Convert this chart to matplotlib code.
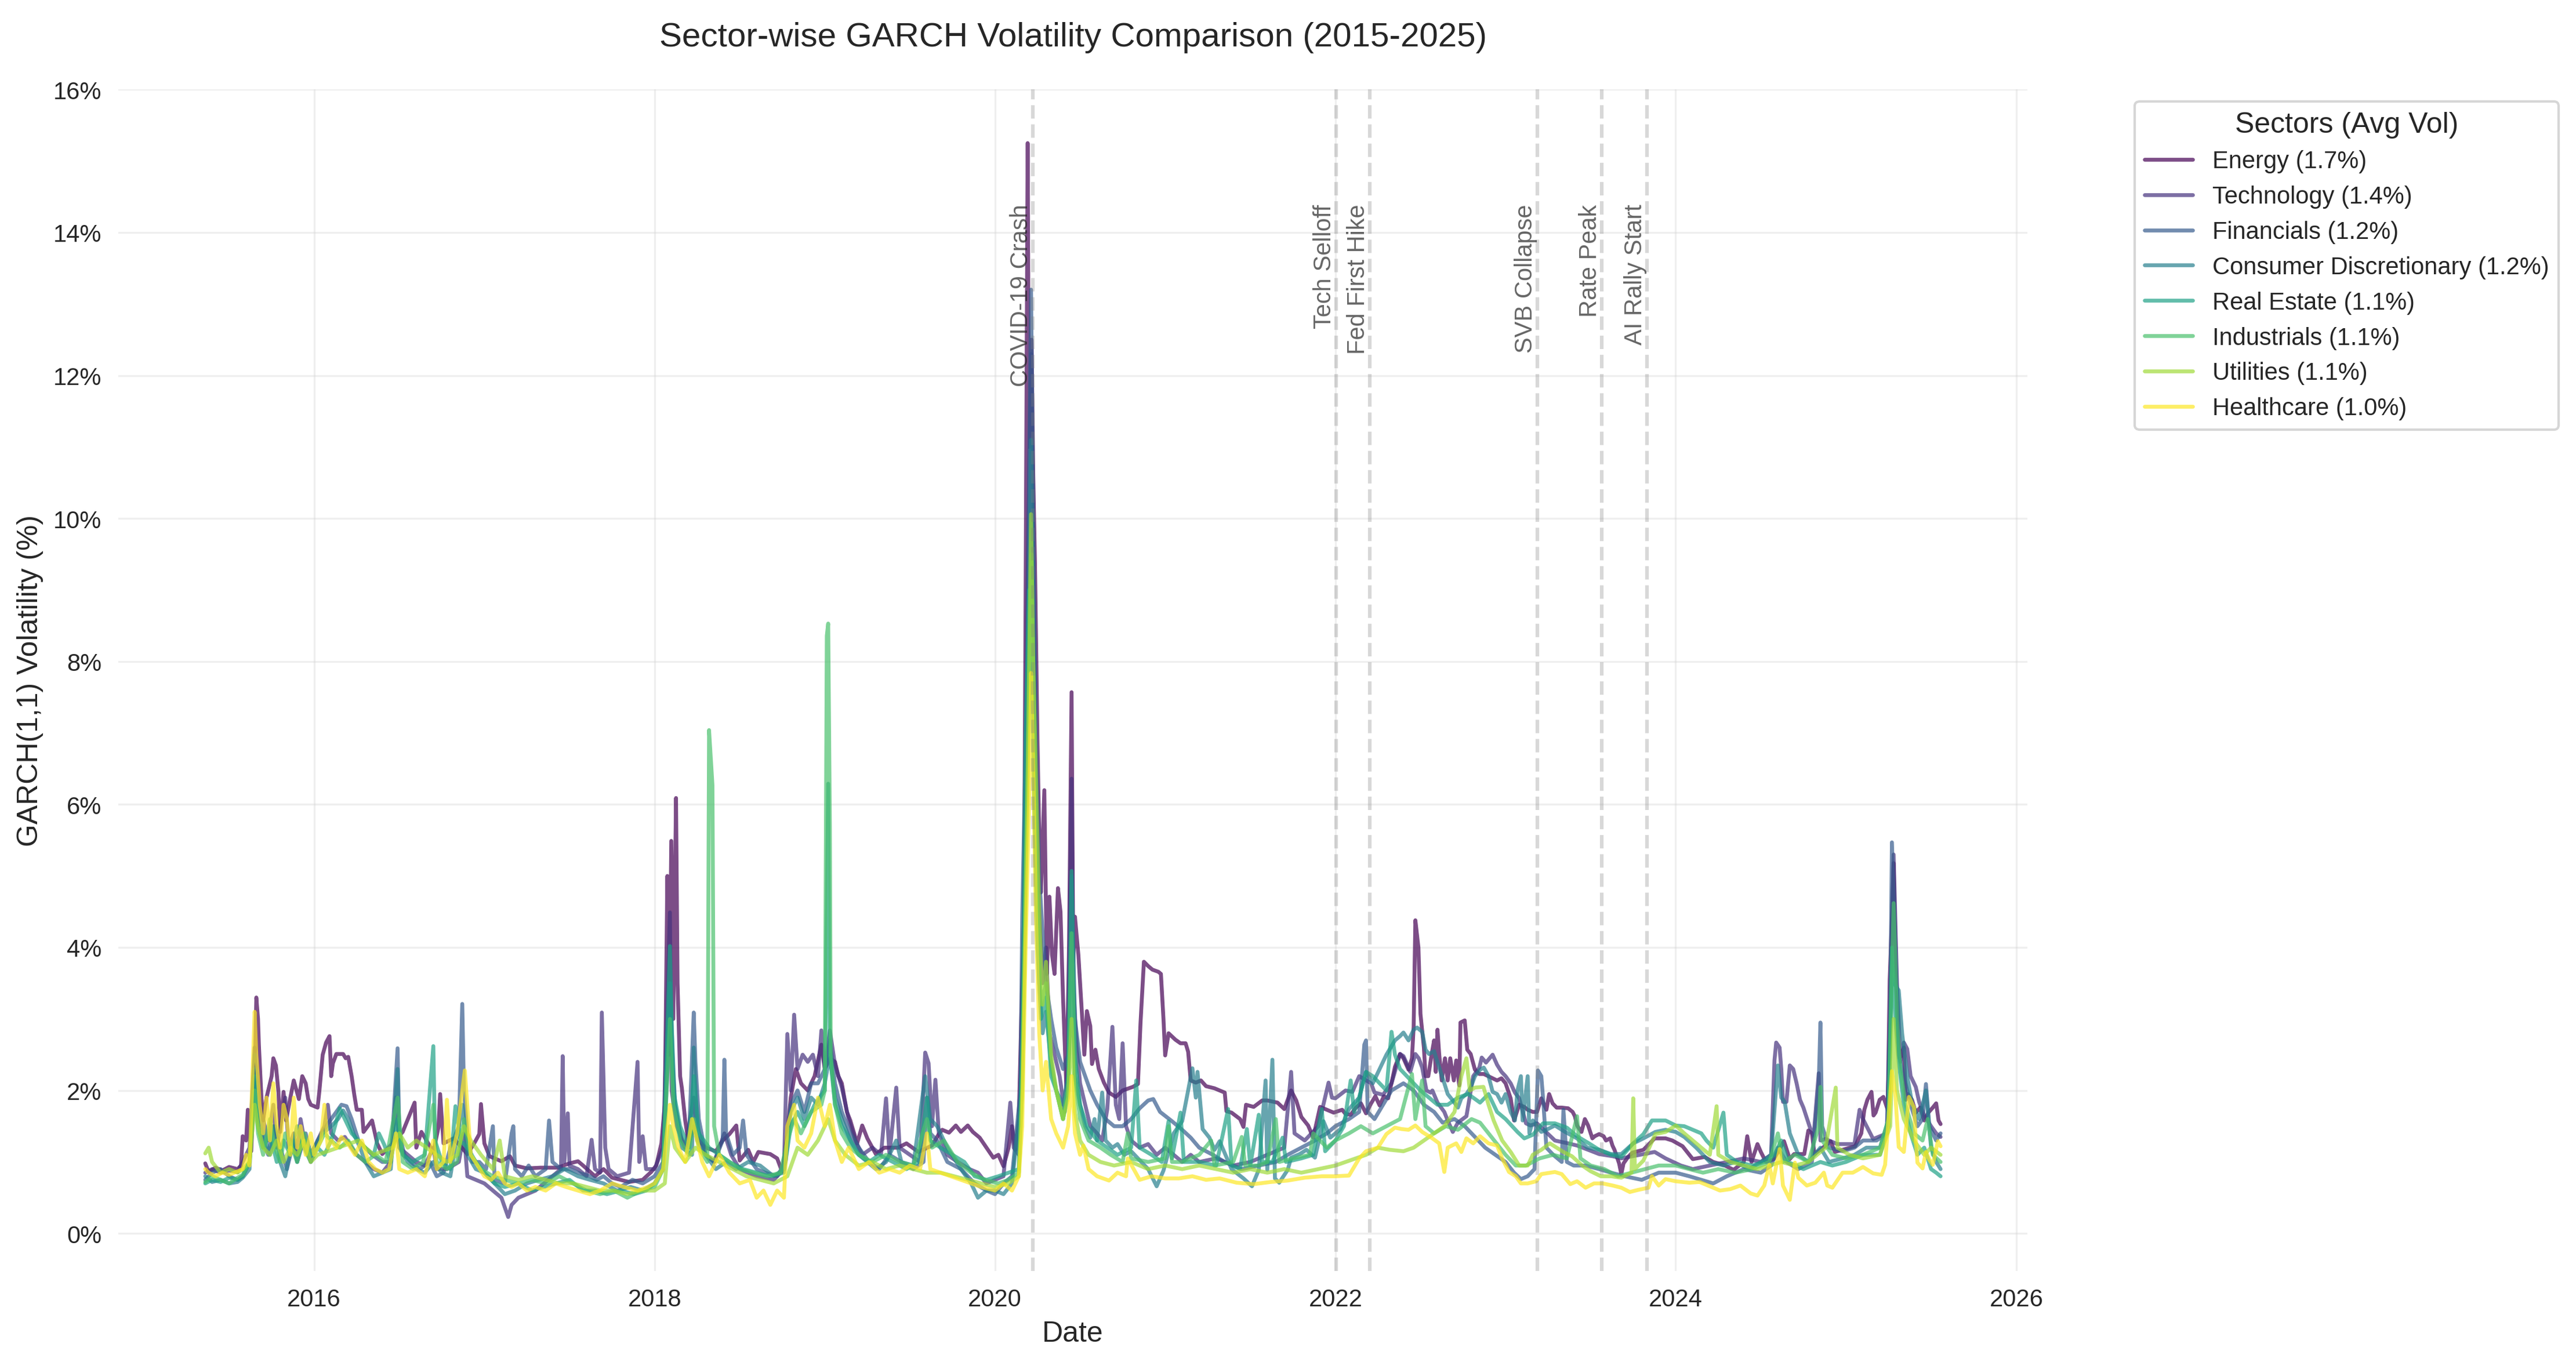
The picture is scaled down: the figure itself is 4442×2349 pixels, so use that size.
import numpy as np
import pandas as pd
import matplotlib
matplotlib.use("Agg")
import matplotlib.pyplot as plt
import matplotlib.dates as mdates
from matplotlib.ticker import MultipleLocator, FuncFormatter
import seaborn as sns

# values (x in decimal years, y in % volatility)
sectors = ["Energy", "Technology", "Financials", "Consumer Discretionary",
           "Real Estate", "Industrials", "Utilities", "Healthcare"]
avg_vol = [1.7, 1.4, 1.2, 1.2, 1.1, 1.1, 1.1, 1.0]

energy_t = [2015.36, 2015.38, 2015.42, 2015.46, 2015.50, 2015.55, 2015.57, 2015.58, 2015.60, 2015.61,
            2015.63, 2015.65, 2015.66, 2015.67, 2015.675, 2015.69, 2015.70, 2015.72, 2015.75, 2015.76,
            2015.775, 2015.79, 2015.80, 2015.82, 2015.835, 2015.86, 2015.88, 2015.91, 2015.93, 2015.95,
            2015.965, 2015.98, 2016.02, 2016.03, 2016.05, 2016.07, 2016.09, 2016.10, 2016.11, 2016.13,
            2016.17, 2016.185, 2016.20, 2016.22, 2016.235, 2016.25, 2016.28, 2016.29, 2016.34, 2016.37,
            2016.40, 2016.46, 2016.52, 2016.59, 2016.60, 2016.63, 2016.67, 2016.70, 2016.73, 2016.74,
            2016.76, 2016.82, 2016.90, 2016.94, 2016.97, 2016.98, 2017.00, 2017.03, 2017.10, 2017.15,
            2017.18, 2017.25, 2017.33, 2017.43, 2017.50, 2017.55, 2017.58, 2017.65, 2017.70, 2017.75,
            2017.85, 2017.93, 2017.98, 2018.01, 2018.04, 2018.06, 2018.075, 2018.085, 2018.098, 2018.11,
            2018.126, 2018.135, 2018.15, 2018.16, 2018.18, 2018.20, 2018.23, 2018.26, 2018.30, 2018.36,
            2018.40, 2018.44, 2018.48, 2018.50, 2018.55, 2018.58, 2018.61, 2018.68, 2018.72, 2018.75,
            2018.78, 2018.80, 2018.83, 2018.86, 2018.90, 2018.94, 2018.98, 2019.00, 2019.03, 2019.06,
            2019.08, 2019.10, 2019.13, 2019.15, 2019.17, 2019.19, 2019.22, 2019.25, 2019.30, 2019.35,
            2019.43, 2019.48, 2019.55, 2019.63, 2019.67, 2019.69, 2019.73, 2019.77, 2019.80, 2019.84,
            2019.87, 2019.91, 2019.95, 2019.99, 2020.02, 2020.05, 2020.08, 2020.10, 2020.12, 2020.14,
            2020.155, 2020.17, 2020.18, 2020.192, 2020.20, 2020.215, 2020.225, 2020.235, 2020.25, 2020.26,
            2020.27, 2020.29, 2020.305, 2020.32, 2020.335, 2020.35, 2020.37, 2020.385, 2020.40, 2020.42,
            2020.435, 2020.45, 2020.46, 2020.47, 2020.49, 2020.51, 2020.525, 2020.54, 2020.56, 2020.57,
            2020.59, 2020.61, 2020.64, 2020.67, 2020.71, 2020.75, 2020.81, 2020.84, 2020.855, 2020.875,
            2020.90, 2020.925, 2020.96, 2020.975, 2020.99, 2021.00, 2021.02, 2021.06, 2021.09, 2021.12,
            2021.135, 2021.15, 2021.18, 2021.21, 2021.24, 2021.29, 2021.32, 2021.35, 2021.36, 2021.39,
            2021.44, 2021.46, 2021.475, 2021.52, 2021.57, 2021.60, 2021.66, 2021.70, 2021.74, 2021.77,
            2021.80, 2021.84, 2021.87, 2021.91, 2021.94, 2021.99, 2022.04, 2022.06, 2022.09, 2022.12,
            2022.15, 2022.18, 2022.21, 2022.235, 2022.26, 2022.285, 2022.31, 2022.325, 2022.35, 2022.38,
            2022.40, 2022.43, 2022.45, 2022.46, 2022.47, 2022.488, 2022.50, 2022.52, 2022.53, 2022.546,
            2022.566, 2022.58, 2022.59, 2022.60, 2022.61, 2022.625, 2022.644, 2022.66, 2022.675, 2022.696,
            2022.71, 2022.728, 2022.735, 2022.76, 2022.775, 2022.795, 2022.82, 2022.846, 2022.872, 2022.898,
            2022.924, 2022.95, 2022.976, 2023.00, 2023.03, 2023.05, 2023.08, 2023.11, 2023.13, 2023.16,
            2023.185, 2023.21, 2023.24, 2023.256, 2023.276, 2023.30, 2023.33, 2023.368, 2023.394, 2023.407,
            2023.42, 2023.446, 2023.466, 2023.485, 2023.51, 2023.524, 2023.55, 2023.576, 2023.59, 2023.615,
            2023.628, 2023.64, 2023.667, 2023.68, 2023.693, 2023.72, 2023.745, 2023.81, 2023.876, 2023.94,
            2023.98, 2024.04, 2024.10, 2024.17, 2024.22, 2024.28, 2024.34, 2024.40, 2024.42, 2024.445,
            2024.48, 2024.50, 2024.53, 2024.576, 2024.636, 2024.67, 2024.695, 2024.755, 2024.779, 2024.80,
            2024.815, 2024.875, 2024.91, 2024.935, 2024.995, 2025.054, 2025.09, 2025.108, 2025.126, 2025.15,
            2025.162, 2025.174, 2025.198, 2025.22, 2025.245, 2025.257, 2025.27, 2025.28, 2025.292, 2025.304,
            2025.316, 2025.34, 2025.352, 2025.364, 2025.388, 2025.41, 2025.436, 2025.46, 2025.484, 2025.51,
            2025.53, 2025.544, 2025.556]
energy_v = [0.98, 0.86, 0.92, 0.88, 0.93, 0.90, 0.95, 1.36, 1.30, 1.73,
            1.15, 2.20, 3.30, 3.00, 2.64, 1.90, 1.58, 1.90, 2.20, 2.45,
            2.35, 1.98, 1.42, 1.98, 1.58, 1.90, 2.14, 1.88, 2.20, 2.10,
            1.88, 1.80, 1.76, 1.98, 2.50, 2.67, 2.76, 2.20, 2.38, 2.51,
            2.51, 2.45, 2.47, 2.20, 1.95, 1.73, 1.73, 1.42, 1.58, 1.26,
            1.11, 1.26, 1.42, 1.83, 1.20, 1.42, 1.26, 1.14, 1.48, 1.95,
            1.26, 1.33, 1.11, 1.26, 1.39, 1.81, 1.26, 1.08, 1.01, 1.08,
            0.95, 0.91, 0.92, 0.92, 0.98, 1.01, 0.95, 0.80, 0.90, 0.78,
            0.72, 0.75, 0.86, 0.95, 1.26, 1.80, 5.00, 2.50, 5.49, 3.00,
            6.09, 3.50, 2.20, 2.04, 1.58, 1.26, 1.50, 1.30, 1.20, 1.15,
            1.30, 1.39, 1.51, 1.02, 1.17, 1.00, 1.14, 1.11, 1.05, 0.86,
            1.40, 1.90, 2.30, 2.10, 2.00, 2.20, 2.64, 2.30, 2.45, 2.40,
            2.20, 2.10, 1.70, 1.58, 1.42, 1.26, 1.51, 1.33, 1.11, 1.20,
            1.20, 1.26, 1.14, 1.23, 1.39, 1.45, 1.41, 1.51, 1.42, 1.51,
            1.42, 1.34, 1.20, 1.06, 1.10, 0.94, 1.20, 1.50, 1.17, 1.60,
            3.06, 4.40, 8.90, 15.25, 11.00, 12.50, 10.60, 9.36, 6.87, 5.57,
            4.77, 6.20, 3.63, 4.71, 3.90, 3.63, 4.83, 4.50, 3.29, 2.00,
            4.00, 7.57, 3.80, 4.43, 3.90, 3.11, 2.50, 3.11, 2.90, 2.37,
            2.57, 2.30, 2.11, 1.97, 1.91, 2.00, 2.05, 2.09, 2.94, 3.80,
            3.74, 3.69, 3.66, 3.63, 3.00, 2.49, 2.80, 2.71, 2.66, 2.66,
            2.54, 2.14, 2.11, 2.14, 2.06, 2.03, 2.00, 1.97, 1.71, 1.69,
            1.60, 1.49, 1.80, 1.77, 1.86, 1.86, 1.83, 1.74, 2.00, 1.86,
            1.63, 1.51, 1.34, 1.77, 1.74, 1.69, 1.73, 1.67, 1.66, 1.76,
            1.82, 1.68, 1.82, 1.92, 1.79, 1.92, 1.89, 2.05, 2.33, 2.51,
            2.45, 2.29, 2.45, 2.89, 4.38, 4.00, 3.07, 2.60, 2.20, 2.20,
            2.51, 2.70, 2.26, 2.85, 2.51, 2.14, 2.45, 2.14, 2.45, 2.14,
            2.42, 2.07, 2.95, 2.98, 2.57, 2.51, 2.29, 2.23, 2.23, 2.20,
            2.17, 2.14, 2.17, 2.10, 1.89, 1.58, 1.80, 1.77, 1.73, 1.70,
            1.70, 1.89, 1.73, 1.95, 1.82, 1.76, 1.76, 1.75, 1.70, 1.64,
            1.51, 1.42, 1.60, 1.51, 1.33, 1.36, 1.39, 1.36, 1.30, 1.33,
            1.23, 1.17, 0.98, 0.83, 0.98, 1.07, 1.13, 1.17, 1.33, 1.33,
            1.30, 1.22, 1.04, 1.07, 1.00, 0.96, 0.89, 1.00, 1.36, 1.00,
            1.25, 1.14, 1.00, 1.04, 1.29, 1.04, 1.11, 1.11, 1.44, 1.40,
            1.11, 1.22, 1.29, 1.14, 1.18, 1.22, 1.40, 1.73, 1.87, 1.98,
            1.65, 1.69, 1.87, 1.91, 1.73, 3.55, 4.40, 5.18, 3.69, 2.78,
            2.45, 2.60, 1.87, 1.95, 1.87, 1.69, 1.76, 1.58, 1.69, 1.76,
            1.82, 1.58, 1.53]

tech_t = [2015.36, 2015.40, 2015.45, 2015.50, 2015.55, 2015.58, 2015.62, 2015.65, 2015.67, 2015.70,
          2015.73, 2015.76, 2015.78, 2015.80, 2015.83, 2015.85, 2015.88, 2015.90, 2015.92, 2015.95,
          2015.98, 2016.02, 2016.06, 2016.08, 2016.10, 2016.14, 2016.18, 2016.22, 2016.25, 2016.30,
          2016.35, 2016.40, 2016.45, 2016.48, 2016.50, 2016.55, 2016.60, 2016.65, 2016.70, 2016.72,
          2016.78, 2016.85, 2016.88, 2016.90, 2016.95, 2017.00, 2017.05, 2017.10, 2017.14, 2017.16,
          2017.20, 2017.25, 2017.30, 2017.35, 2017.40, 2017.45, 2017.46, 2017.47, 2017.49, 2017.50,
          2017.55, 2017.60, 2017.63, 2017.65, 2017.68, 2017.69, 2017.71, 2017.73, 2017.78, 2017.85,
          2017.90, 2017.91, 2017.93, 2017.95, 2018.00, 2018.05, 2018.09, 2018.10, 2018.13, 2018.18,
          2018.23, 2018.25, 2018.30, 2018.35, 2018.41, 2018.45, 2018.50, 2018.60, 2018.70, 2018.76,
          2018.78, 2018.80, 2018.82, 2018.84, 2018.87, 2018.90, 2018.93, 2018.96, 2018.98, 2019.00,
          2019.03, 2019.06, 2019.10, 2019.14, 2019.18, 2019.22, 2019.28, 2019.33, 2019.36, 2019.38,
          2019.42, 2019.44, 2019.50, 2019.56, 2019.59, 2019.61, 2019.63, 2019.65, 2019.67, 2019.72,
          2019.78, 2019.85, 2019.90, 2019.95, 2020.00, 2020.05, 2020.09, 2020.11, 2020.14, 2020.155,
          2020.17, 2020.19, 2020.212, 2020.225, 2020.24, 2020.26, 2020.28, 2020.30, 2020.32, 2020.35,
          2020.38, 2020.41, 2020.43, 2020.45, 2020.46, 2020.48, 2020.50, 2020.53, 2020.56, 2020.60,
          2020.63, 2020.66, 2020.69, 2020.71, 2020.73, 2020.75, 2020.77, 2020.80, 2020.85, 2020.90,
          2020.95, 2021.00, 2021.05, 2021.10, 2021.15, 2021.20, 2021.30, 2021.40, 2021.50, 2021.60,
          2021.70, 2021.74, 2021.76, 2021.82, 2021.90, 2021.96, 2021.98, 2022.00, 2022.06, 2022.10,
          2022.14, 2022.21, 2022.23, 2022.28, 2022.33, 2022.38, 2022.40, 2022.43, 2022.44, 2022.47,
          2022.49, 2022.51, 2022.535, 2022.56, 2022.57, 2022.60, 2022.64, 2022.66, 2022.69, 2022.72,
          2022.77, 2022.81, 2022.846, 2022.86, 2022.885, 2022.924, 2022.95, 2022.976, 2023.00, 2023.03,
          2023.055, 2023.08, 2023.12, 2023.146, 2023.185, 2023.237, 2023.29, 2023.368, 2023.42, 2023.485,
          2023.55, 2023.63, 2023.68, 2023.745, 2023.81, 2023.876, 2023.94, 2024.03, 2024.10, 2024.20,
          2024.30, 2024.40, 2024.50, 2024.56, 2024.58, 2024.59, 2024.61, 2024.62, 2024.63, 2024.65,
          2024.67, 2024.69, 2024.71, 2024.73, 2024.75, 2024.79, 2024.81, 2024.84, 2024.85, 2024.88,
          2024.95, 2025.05, 2025.08, 2025.10, 2025.16, 2025.24, 2025.26, 2025.28, 2025.30, 2025.32,
          2025.34, 2025.36, 2025.38, 2025.41, 2025.43, 2025.46, 2025.50, 2025.53, 2025.556]
tech_v = [0.85, 0.90, 0.85, 0.88, 0.86, 1.00, 1.20, 2.60, 2.00, 1.60,
          1.30, 1.80, 1.20, 1.50, 1.90, 1.20, 1.40, 1.10, 1.60, 1.20,
          1.00, 1.30, 1.50, 1.80, 1.40, 1.30, 1.35, 1.20, 1.10, 1.00,
          0.90, 0.85, 1.00, 1.90, 1.20, 1.10, 1.00, 0.95, 1.20, 0.90,
          0.90, 1.00, 1.40, 0.80, 0.75, 0.70, 0.60, 0.50, 0.23, 0.40,
          0.50, 0.55, 0.60, 0.70, 0.80, 0.90, 2.48, 1.00, 1.68, 0.95,
          0.90, 0.80, 1.31, 0.90, 0.85, 3.09, 1.20, 0.90, 0.80, 0.85,
          2.40, 1.00, 1.36, 0.90, 0.90, 1.20, 4.49, 2.00, 1.50, 1.20,
          1.90, 1.30, 1.10, 1.00, 1.40, 1.10, 0.90, 0.80, 0.75, 0.90,
          2.79, 2.00, 3.06, 2.30, 2.50, 2.40, 2.50, 2.20, 2.84, 2.30,
          2.84, 2.36, 2.04, 1.60, 1.30, 1.10, 1.20, 1.10, 1.89, 1.10,
          2.04, 1.20, 1.10, 1.00, 2.53, 2.38, 1.50, 2.15, 1.40, 1.10,
          1.00, 0.90, 0.85, 0.70, 0.75, 0.80, 1.83, 1.20, 1.10, 2.50,
          4.40, 8.90, 12.30, 9.00, 6.50, 4.50, 3.50, 4.00, 2.80, 2.50,
          2.20, 1.70, 2.50, 6.36, 3.50, 2.60, 2.10, 1.80, 1.50, 1.40,
          1.30, 1.74, 2.89, 1.80, 1.60, 2.66, 1.50, 1.30, 1.20, 1.25,
          1.10, 1.20, 1.10, 1.00, 1.10, 1.00, 1.05, 0.95, 1.00, 1.10,
          1.20, 2.26, 1.40, 1.30, 1.50, 2.11, 1.90, 1.89, 2.00, 1.98,
          2.20, 2.10, 1.97, 1.94, 2.10, 2.51, 2.48, 2.32, 2.26, 2.51,
          2.45, 2.32, 2.00, 1.97, 2.00, 1.83, 1.70, 1.58, 1.42, 1.55,
          1.64, 2.20, 2.32, 2.46, 2.39, 2.50, 2.36, 2.26, 2.20, 2.10,
          1.97, 1.89, 1.54, 1.51, 1.54, 1.42, 1.30, 1.26, 1.23, 1.17,
          1.11, 1.08, 1.05, 1.08, 1.11, 1.14, 1.05, 0.95, 0.90, 0.95,
          1.00, 1.05, 1.00, 1.10, 2.42, 2.67, 2.60, 2.30, 1.84, 1.84,
          2.35, 2.30, 2.10, 1.87, 1.76, 1.47, 1.36, 2.24, 1.30, 1.32,
          1.25, 1.25, 1.73, 1.60, 1.32, 1.40, 3.00, 5.30, 3.50, 2.40,
          2.67, 2.58, 2.20, 2.05, 1.84, 1.65, 1.50, 1.40, 1.35]

fin_t = [2015.36, 2015.40, 2015.45, 2015.50, 2015.55, 2015.58, 2015.62, 2015.65, 2015.67, 2015.70,
         2015.73, 2015.76, 2015.80, 2015.84, 2015.88, 2015.90, 2015.95, 2015.98, 2016.02, 2016.07,
         2016.10, 2016.13, 2016.16, 2016.19, 2016.22, 2016.26, 2016.30, 2016.34, 2016.40, 2016.45,
         2016.49, 2016.50, 2016.53, 2016.57, 2016.62, 2016.68, 2016.72, 2016.76, 2016.80, 2016.85,
         2016.87, 2016.88, 2016.90, 2016.93, 2016.97, 2017.01, 2017.05, 2017.06, 2017.12, 2017.16,
         2017.17, 2017.18, 2017.22, 2017.26, 2017.30, 2017.36, 2017.38, 2017.40, 2017.45, 2017.50,
         2017.55, 2017.62, 2017.66, 2017.70, 2017.75, 2017.80, 2017.87, 2017.93, 2018.00, 2018.05,
         2018.09, 2018.12, 2018.16, 2018.20, 2018.23, 2018.24, 2018.26, 2018.30, 2018.35, 2018.40,
         2018.41, 2018.42, 2018.46, 2018.50, 2018.52, 2018.54, 2018.60, 2018.65, 2018.72, 2018.77,
         2018.80, 2018.84, 2018.88, 2018.92, 2018.96, 2019.00, 2019.03, 2019.06, 2019.10, 2019.15,
         2019.20, 2019.26, 2019.32, 2019.38, 2019.45, 2019.52, 2019.58, 2019.60, 2019.62, 2019.66,
         2019.72, 2019.80, 2019.88, 2019.95, 2020.00, 2020.05, 2020.10, 2020.15, 2020.16, 2020.19,
         2020.212, 2020.225, 2020.24, 2020.26, 2020.28, 2020.30, 2020.33, 2020.36, 2020.40, 2020.43,
         2020.45, 2020.47, 2020.50, 2020.53, 2020.56, 2020.60, 2020.65, 2020.70, 2020.75, 2020.80,
         2020.85, 2020.90, 2020.93, 2020.97, 2021.04, 2021.10, 2021.15, 2021.20, 2021.28, 2021.35,
         2021.45, 2021.55, 2021.65, 2021.72, 2021.80, 2021.88, 2021.95, 2022.00, 2022.08, 2022.14,
         2022.17, 2022.18, 2022.19, 2022.23, 2022.28, 2022.33, 2022.40, 2022.46, 2022.52, 2022.58,
         2022.63, 2022.70, 2022.76, 2022.82, 2022.88, 2022.94, 2023.00, 2023.05, 2023.09, 2023.13,
         2023.17, 2023.19, 2023.21, 2023.22, 2023.24, 2023.28, 2023.33, 2023.34, 2023.36, 2023.40,
         2023.47, 2023.55, 2023.62, 2023.70, 2023.80, 2023.90, 2024.00, 2024.08, 2024.15, 2024.22,
         2024.30, 2024.40, 2024.50, 2024.56, 2024.60, 2024.65, 2024.72, 2024.80, 2024.84, 2024.85,
         2024.86, 2024.90, 2024.98, 2025.05, 2025.10, 2025.18, 2025.24, 2025.26, 2025.27, 2025.29,
         2025.31, 2025.34, 2025.38, 2025.42, 2025.45, 2025.47, 2025.49, 2025.53, 2025.556]
fin_v = [0.75, 0.85, 0.90, 0.80, 0.75, 0.80, 1.00, 2.50, 1.80, 1.30,
         1.10, 1.50, 1.20, 0.90, 1.30, 1.00, 1.40, 1.10, 1.30, 1.50,
         1.60, 1.70, 1.80, 1.78, 1.60, 1.30, 1.20, 1.10, 1.00, 1.00,
         2.59, 1.40, 1.10, 1.00, 0.90, 1.00, 0.80, 0.85, 1.20, 1.50,
         3.21, 2.00, 1.40, 1.00, 1.00, 0.90, 1.50, 0.75, 0.70, 1.40,
         1.50, 0.90, 0.80, 0.95, 0.80, 0.90, 1.58, 1.00, 0.90, 0.90,
         0.85, 0.80, 0.75, 0.80, 0.70, 0.65, 0.75, 0.70, 0.80, 1.00,
         3.00, 1.80, 1.30, 1.20, 3.09, 2.40, 1.60, 1.10, 1.00, 1.30,
         2.43, 1.40, 1.10, 1.20, 1.58, 1.10, 0.90, 0.85, 0.80, 1.00,
         1.80, 2.00, 1.70, 2.10, 2.10, 2.30, 2.70, 2.10, 1.70, 1.40,
         1.20, 1.00, 0.90, 1.10, 1.00, 0.90, 1.00, 1.90, 1.40, 1.30,
         1.00, 0.90, 0.70, 0.60, 0.55, 0.70, 0.80, 2.00, 4.43, 8.00,
         13.20, 10.00, 7.00, 5.00, 4.20, 3.50, 3.00, 2.60, 2.30, 2.50,
         5.00, 3.00, 2.40, 2.20, 2.00, 1.80, 1.60, 1.50, 1.50, 1.60,
         1.75, 1.86, 1.88, 1.70, 1.57, 1.45, 1.34, 1.20, 1.10, 1.00,
         0.90, 0.95, 1.00, 1.10, 1.20, 1.30, 1.40, 1.50, 1.60, 1.70,
         2.64, 2.70, 1.70, 1.60, 1.80, 2.00, 2.10, 2.00, 1.80, 1.70,
         1.55, 1.60, 1.50, 1.35, 1.20, 1.10, 1.00, 0.85, 0.76, 0.80,
         0.90, 2.28, 2.20, 1.90, 1.20, 1.10, 1.00, 1.73, 1.00, 0.95,
         0.95, 0.90, 0.85, 0.80, 0.75, 0.85, 0.85, 0.80, 0.75, 0.70,
         0.80, 0.90, 0.85, 0.95, 1.20, 1.00, 0.90, 1.00, 2.10, 2.95,
         1.50, 1.20, 1.15, 1.20, 1.30, 1.30, 1.40, 3.00, 5.47, 4.00,
         2.50, 2.20, 1.80, 1.50, 1.60, 2.09, 1.50, 1.30, 1.40]

cons_t = [2015.36, 2015.40, 2015.45, 2015.50, 2015.55, 2015.58, 2015.62, 2015.65, 2015.67, 2015.70,
          2015.74, 2015.77, 2015.80, 2015.83, 2015.87, 2015.90, 2015.93, 2015.97, 2016.00, 2016.05,
          2016.10, 2016.14, 2016.17, 2016.20, 2016.23, 2016.27, 2016.30, 2016.35, 2016.40, 2016.45,
          2016.49, 2016.50, 2016.55, 2016.60, 2016.65, 2016.70, 2016.75, 2016.80, 2016.87, 2016.90,
          2016.95, 2017.00, 2017.06, 2017.12, 2017.18, 2017.25, 2017.32, 2017.40, 2017.47, 2017.55,
          2017.62, 2017.70, 2017.78, 2017.86, 2017.93, 2018.00, 2018.05, 2018.09, 2018.12, 2018.16,
          2018.22, 2018.23, 2018.25, 2018.30, 2018.36, 2018.42, 2018.48, 2018.55, 2018.62, 2018.70,
          2018.76, 2018.80, 2018.84, 2018.88, 2018.92, 2018.96, 2019.00, 2019.03, 2019.06, 2019.10,
          2019.15, 2019.20, 2019.25, 2019.30, 2019.36, 2019.42, 2019.45, 2019.52, 2019.59, 2019.62,
          2019.66, 2019.72, 2019.80, 2019.86, 2019.90, 2019.95, 2020.00, 2020.05, 2020.10, 2020.15,
          2020.17, 2020.19, 2020.212, 2020.225, 2020.24, 2020.26, 2020.28, 2020.30, 2020.33, 2020.36,
          2020.40, 2020.43, 2020.45, 2020.47, 2020.50, 2020.53, 2020.56, 2020.585, 2020.60, 2020.63,
          2020.65, 2020.69, 2020.72, 2020.76, 2020.80, 2020.86, 2020.90, 2020.95, 2020.99, 2021.05,
          2021.10, 2021.16, 2021.18, 2021.19, 2021.22, 2021.26, 2021.29, 2021.32, 2021.39, 2021.46,
          2021.51, 2021.55, 2021.59, 2021.60, 2021.63, 2021.645, 2021.67, 2021.72, 2021.74, 2021.79,
          2021.83, 2021.88, 2021.93, 2021.97, 2022.03, 2022.08, 2022.14,
          2022.18, 2022.22, 2022.26, 2022.30, 2022.35, 2022.38, 2022.40, 2022.43, 2022.46, 2022.48,
          2022.51, 2022.53, 2022.55, 2022.58, 2022.61, 2022.635, 2022.66, 2022.69, 2022.72, 2022.74,
          2022.77, 2022.795, 2022.82, 2022.85, 2022.872, 2022.90, 2022.924, 2022.95, 2022.976, 2023.00,
          2023.03, 2023.055, 2023.07, 2023.09, 2023.10, 2023.13, 2023.14, 2023.16, 2023.21, 2023.24,
          2023.29, 2023.35, 2023.42, 2023.48, 2023.55, 2023.62, 2023.68, 2023.75, 2023.81, 2023.88,
          2023.94, 2024.00, 2024.05, 2024.12, 2024.20, 2024.28, 2024.35, 2024.43, 2024.50, 2024.56,
          2024.60, 2024.62, 2024.64, 2024.67, 2024.72, 2024.78, 2024.85, 2024.90, 2024.98, 2025.05,
          2025.12, 2025.20, 2025.25, 2025.27, 2025.29, 2025.31, 2025.33, 2025.36, 2025.39, 2025.43,
          2025.47, 2025.50, 2025.53, 2025.556]
cons_v = [0.80, 0.72, 0.75, 0.70, 0.72, 0.78, 0.90, 2.30, 1.60, 1.40,
          1.10, 1.50, 1.00, 0.80, 1.30, 1.00, 1.30, 1.10, 1.20, 1.40,
          1.50, 1.60, 1.72, 1.60, 1.40, 1.20, 1.00, 0.80, 0.85, 0.90,
          2.30, 1.20, 1.00, 0.90, 0.85, 1.00, 0.85, 0.80, 1.80, 1.10,
          0.90, 0.85, 0.70, 0.55, 0.60, 0.70, 0.75, 0.80, 0.90, 0.80,
          0.75, 0.70, 0.60, 0.65, 0.60, 0.70, 0.90, 3.50, 1.80, 1.20,
          1.10, 2.60, 1.50, 1.10, 0.90, 1.00, 0.90, 1.00, 0.95, 0.80,
          0.90, 1.70, 1.90, 1.60, 1.90, 1.80, 2.10, 2.50, 1.90, 1.60,
          1.30, 1.10, 1.00, 0.90, 1.00, 1.30, 1.00, 0.95, 2.20, 1.60,
          1.50, 1.20, 0.90, 0.70, 0.50, 0.60, 0.60, 0.55, 0.70, 1.80,
          3.50, 7.00, 11.10, 8.50, 5.50, 3.50, 2.80, 3.10, 2.40, 2.00,
          1.80, 2.20, 3.50, 2.20, 1.80, 1.50, 1.34, 1.60, 1.30, 1.97,
          1.30, 1.20, 1.25, 1.10, 1.15, 1.00, 0.90, 0.66, 0.88, 1.40,
          1.57, 2.31, 1.90, 2.26, 1.46, 1.34, 1.17, 1.29, 0.90, 0.77,
          0.66, 0.89, 2.14, 0.89, 2.43, 0.77, 0.71, 0.89, 1.06, 1.11,
          1.17, 1.06, 1.57, 1.34, 1.46, 1.74, 1.90,
          2.26, 2.10, 2.30, 2.50, 2.70, 2.76, 2.81, 2.70, 2.85, 2.88,
          2.82, 2.57, 2.51, 2.55, 2.32, 2.14, 1.95, 1.86, 1.76, 1.89,
          1.95, 2.04, 2.20, 2.29, 2.32, 2.20, 1.98, 1.95, 1.83, 1.95,
          1.70, 1.58, 2.00, 2.20, 1.58, 2.20, 1.40, 1.58, 1.42, 1.45,
          1.51, 1.42, 1.33, 1.20, 1.17, 1.11, 1.11, 1.26, 1.33, 1.42,
          1.45, 1.42, 1.35, 1.20, 1.00, 0.95, 1.00, 0.90, 1.00, 1.10,
          2.35, 1.90, 1.84, 1.40, 1.10, 1.00, 1.20, 1.00, 1.05, 1.10,
          1.20, 1.20, 1.60, 3.80, 3.47, 3.40, 2.80, 2.20, 1.80, 1.60,
          2.00, 1.20, 1.00, 0.90]

re_t = [2015.36, 2015.40, 2015.45, 2015.50, 2015.55, 2015.58, 2015.62, 2015.65, 2015.67, 2015.70,
        2015.74, 2015.78, 2015.82, 2015.86, 2015.90, 2015.94, 2015.98, 2016.02, 2016.06, 2016.10,
        2016.15, 2016.18, 2016.22, 2016.26, 2016.30, 2016.35, 2016.38, 2016.41, 2016.45, 2016.49,
        2016.52, 2016.58, 2016.65, 2016.70, 2016.71, 2016.75, 2016.80, 2016.83, 2016.86, 2016.90,
        2016.95, 2017.00, 2017.06, 2017.12, 2017.20, 2017.28, 2017.35, 2017.42, 2017.50, 2017.58,
        2017.65, 2017.72, 2017.80, 2017.88, 2017.95, 2018.00, 2018.05, 2018.09, 2018.11, 2018.15,
        2018.20, 2018.23, 2018.26, 2018.32, 2018.38, 2018.44, 2018.52, 2018.60, 2018.68, 2018.76,
        2018.80, 2018.84, 2018.88, 2018.94, 2019.00, 2019.02, 2019.03, 2019.06, 2019.10, 2019.15,
        2019.20, 2019.26, 2019.32, 2019.40, 2019.48, 2019.55, 2019.60, 2019.62, 2019.68, 2019.75,
        2019.82, 2019.88, 2019.95, 2020.02, 2020.08, 2020.14, 2020.16, 2020.18, 2020.20, 2020.215,
        2020.23, 2020.25, 2020.27, 2020.30, 2020.33, 2020.36, 2020.40, 2020.43, 2020.45, 2020.47,
        2020.50, 2020.54, 2020.60, 2020.66, 2020.72, 2020.80, 2020.83, 2020.85, 2020.92, 2020.98,
        2021.02, 2021.04, 2021.09, 2021.11, 2021.20, 2021.30, 2021.37, 2021.39, 2021.44, 2021.48,
        2021.50, 2021.55, 2021.57, 2021.63, 2021.69, 2021.71, 2021.80, 2021.87, 2021.92, 2021.94,
        2022.00, 2022.05, 2022.09, 2022.11, 2022.14, 2022.18, 2022.22, 2022.26, 2022.30, 2022.33,
        2022.35, 2022.38, 2022.42, 2022.46, 2022.50, 2022.55, 2022.60, 2022.66, 2022.72, 2022.78,
        2022.85, 2022.90, 2022.95, 2023.00, 2023.07, 2023.11, 2023.16, 2023.22, 2023.29, 2023.36,
        2023.42, 2023.49, 2023.55, 2023.62, 2023.68, 2023.75, 2023.81, 2023.86, 2023.94, 2024.00,
        2024.05, 2024.10, 2024.15, 2024.18, 2024.22, 2024.28, 2024.30, 2024.36, 2024.45, 2024.52,
        2024.58, 2024.62, 2024.66, 2024.75, 2024.85, 2024.92, 2025.00, 2025.10, 2025.20, 2025.25,
        2025.27, 2025.29, 2025.31, 2025.34, 2025.38, 2025.42, 2025.46, 2025.50, 2025.53, 2025.556]
re_v = [0.70, 0.75, 0.72, 0.78, 0.75, 0.80, 1.00, 2.20, 1.50, 1.20,
        1.40, 1.00, 1.30, 1.10, 1.50, 1.20, 1.00, 1.20, 1.10, 1.30,
        1.75, 1.60, 1.40, 1.30, 1.20, 1.10, 1.40, 1.25, 1.00, 1.60,
        1.10, 1.00, 1.10, 2.62, 1.30, 1.00, 0.90, 1.78, 1.30, 1.20,
        1.00, 0.85, 0.70, 0.65, 0.70, 0.60, 0.65, 0.70, 0.75, 0.60,
        0.60, 0.55, 0.60, 0.55, 0.60, 0.70, 0.90, 4.02, 2.00, 1.50,
        1.20, 2.20, 1.40, 1.20, 1.10, 1.00, 0.90, 0.85, 0.80, 0.85,
        1.50, 1.70, 1.50, 1.80, 2.00, 6.29, 2.50, 1.80, 1.50, 1.30,
        1.10, 1.00, 1.10, 1.00, 0.90, 1.00, 1.90, 1.30, 1.20, 1.10,
        1.00, 0.80, 0.75, 0.80, 0.85, 0.90, 2.50, 6.98, 9.00, 8.27,
        6.00, 4.00, 3.00, 3.30, 2.20, 2.00, 1.60, 2.00, 5.07, 2.50,
        1.80, 1.50, 1.30, 1.20, 1.10, 1.20, 2.14, 1.20, 1.10, 1.00,
        1.57, 1.05, 1.69, 1.00, 1.00, 0.95, 1.74, 0.95, 0.90, 1.46,
        0.95, 1.66, 1.00, 1.00, 1.34, 1.00, 1.05, 1.10, 1.74, 1.15,
        1.30, 1.50, 2.14, 1.70, 1.90, 2.26, 2.20, 2.10, 2.00, 2.82,
        2.50, 2.30, 2.20, 2.10, 2.00, 1.90, 1.80, 1.80, 1.90, 1.95,
        1.83, 1.95, 1.70, 1.60, 1.42, 1.33, 1.38, 1.54, 1.54, 1.48,
        1.36, 1.26, 1.17, 1.10, 1.07, 1.26, 1.39, 1.58, 1.58, 1.51,
        1.50, 1.45, 1.40, 1.30, 1.20, 1.69, 1.10, 1.00, 0.95, 1.00,
        1.10, 1.30, 1.00, 0.90, 1.00, 0.95, 1.00, 1.10, 1.10, 1.50,
        4.00, 3.00, 2.40, 1.80, 1.40, 1.10, 1.20, 0.90, 0.85, 0.80]

ind_t = [2015.36, 2015.40, 2015.45, 2015.50, 2015.55, 2015.58, 2015.62, 2015.65, 2015.67, 2015.70,
         2015.74, 2015.77, 2015.80, 2015.83, 2015.87, 2015.90, 2015.94, 2015.98, 2016.02, 2016.06,
         2016.10, 2016.15, 2016.20, 2016.25, 2016.30, 2016.36, 2016.42, 2016.49, 2016.52, 2016.58,
         2016.64, 2016.70, 2016.72, 2016.78, 2016.84, 2016.88, 2016.92, 2016.98, 2017.05, 2017.12,
         2017.20, 2017.28, 2017.36, 2017.44, 2017.52, 2017.60, 2017.68, 2017.76, 2017.84, 2017.92,
         2018.00, 2018.05, 2018.09, 2018.11, 2018.15, 2018.20, 2018.23, 2018.26, 2018.31, 2018.32,
         2018.34, 2018.35, 2018.38, 2018.44, 2018.50, 2018.58, 2018.66, 2018.74, 2018.78, 2018.82,
         2018.86, 2018.92, 2018.98, 2019.00, 2019.012, 2019.02, 2019.03, 2019.035, 2019.06, 2019.10,
         2019.15, 2019.20, 2019.28, 2019.36, 2019.44, 2019.52, 2019.60, 2019.63, 2019.70, 2019.78,
         2019.86, 2019.94, 2020.02, 2020.08, 2020.14, 2020.16, 2020.18, 2020.20, 2020.215, 2020.23,
         2020.25, 2020.27, 2020.30, 2020.33, 2020.36, 2020.40, 2020.43, 2020.45, 2020.47, 2020.50,
         2020.55, 2020.62, 2020.68, 2020.75, 2020.78, 2020.80, 2020.90, 2021.00, 2021.02, 2021.04,
         2021.10, 2021.20, 2021.27, 2021.29, 2021.40, 2021.45, 2021.47, 2021.55, 2021.60, 2021.65,
         2021.67, 2021.75, 2021.85, 2021.87, 2021.95, 2022.00, 2022.08,
         2022.15, 2022.22, 2022.30, 2022.38, 2022.45, 2022.47, 2022.51, 2022.53, 2022.58, 2022.65,
         2022.72, 2022.80, 2022.85, 2022.90, 2022.95, 2023.00, 2023.06, 2023.12, 2023.20, 2023.28,
         2023.36, 2023.42, 2023.44, 2023.50, 2023.58, 2023.66, 2023.74, 2023.82, 2023.90, 2024.00,
         2024.08, 2024.16, 2024.25, 2024.35, 2024.45, 2024.55, 2024.60, 2024.63, 2024.70, 2024.78,
         2024.84, 2024.85, 2024.86, 2024.92, 2025.00, 2025.10, 2025.20, 2025.25, 2025.28, 2025.30,
         2025.32, 2025.35, 2025.40, 2025.45, 2025.48, 2025.51, 2025.556]
ind_v = [0.72, 0.80, 0.75, 0.70, 0.78, 0.82, 1.00, 2.00, 1.40, 1.10,
         1.60, 1.20, 1.00, 1.40, 1.20, 1.00, 1.40, 1.10, 1.20, 1.40,
         1.30, 1.20, 1.30, 1.10, 1.00, 1.10, 1.00, 1.90, 1.00, 0.90,
         1.00, 1.80, 1.00, 0.90, 1.00, 1.60, 1.10, 0.90, 0.80, 0.75,
         0.70, 0.75, 0.70, 0.80, 0.70, 0.60, 0.55, 0.60, 0.50, 0.60,
         0.65, 0.90, 3.00, 1.80, 1.30, 1.10, 1.60, 1.20, 1.00, 7.04,
         6.27, 1.50, 1.10, 1.00, 0.90, 0.85, 0.80, 0.85, 1.30, 1.60,
         1.40, 1.70, 1.80, 2.00, 8.36, 8.53, 5.70, 2.50, 1.80, 1.40,
         1.20, 1.10, 1.00, 1.10, 1.00, 0.95, 1.60, 1.20, 1.30, 1.00,
         0.85, 0.75, 0.70, 0.75, 0.85, 2.00, 5.00, 7.50, 9.50, 7.00,
         4.50, 3.20, 3.50, 2.30, 2.00, 1.60, 2.10, 4.20, 2.20, 1.60,
         1.30, 1.20, 1.10, 1.00, 1.40, 1.05, 1.00, 1.05, 1.50, 1.00,
         1.00, 1.10, 1.30, 0.95, 1.00, 1.35, 0.95, 0.95, 1.00, 1.60,
         1.00, 1.05, 1.10, 1.40, 1.20, 1.30, 1.40,
         1.50, 1.40, 1.50, 1.60, 2.23, 1.60, 2.14, 1.50, 1.40, 1.50,
         1.45, 1.60, 1.55, 1.40, 1.25, 1.10, 0.95, 0.95, 1.05, 1.10,
         1.05, 1.64, 1.05, 0.95, 0.90, 0.80, 0.85, 0.90, 0.95, 0.95,
         0.90, 0.85, 0.90, 0.85, 0.90, 1.00, 1.40, 1.00, 1.10, 1.00,
         1.50, 2.05, 1.30, 1.10, 1.05, 1.10, 1.20, 1.60, 4.62, 3.00,
         2.30, 1.80, 1.40, 1.30, 1.60, 1.10, 1.00]

util_t = [2015.36, 2015.38, 2015.40, 2015.45, 2015.50, 2015.55, 2015.58, 2015.62, 2015.65, 2015.67,
          2015.70, 2015.74, 2015.78, 2015.82, 2015.86, 2015.90, 2015.94, 2015.98, 2016.02, 2016.08,
          2016.14, 2016.20, 2016.26, 2016.30, 2016.35, 2016.40, 2016.46, 2016.50, 2016.55, 2016.60,
          2016.66, 2016.72, 2016.78, 2016.84, 2016.88, 2016.92, 2016.98, 2017.05, 2017.09, 2017.12,
          2017.20, 2017.28, 2017.36, 2017.44, 2017.52, 2017.60, 2017.68, 2017.76, 2017.84, 2017.92,
          2018.00, 2018.06, 2018.09, 2018.12, 2018.18, 2018.24, 2018.30, 2018.38, 2018.46, 2018.54,
          2018.62, 2018.70, 2018.78, 2018.84, 2018.90, 2018.96, 2019.02, 2019.06, 2019.12, 2019.20,
          2019.28, 2019.36, 2019.44, 2019.52, 2019.60, 2019.68, 2019.76, 2019.84, 2019.92, 2020.00,
          2020.08, 2020.14, 2020.16, 2020.19, 2020.212, 2020.225, 2020.24, 2020.26, 2020.28, 2020.30,
          2020.33, 2020.36, 2020.40, 2020.43, 2020.45, 2020.47, 2020.50, 2020.55, 2020.62, 2020.70,
          2020.80, 2020.90, 2021.00, 2021.10, 2021.20, 2021.30, 2021.40, 2021.50, 2021.60, 2021.70,
          2021.80, 2021.90, 2022.00, 2022.06, 2022.12, 2022.18, 2022.25, 2022.32, 2022.40, 2022.46,
          2022.52, 2022.58, 2022.64, 2022.70, 2022.74, 2022.77, 2022.79, 2022.82, 2022.87, 2022.90,
          2022.93, 2022.98, 2023.03, 2023.08, 2023.13, 2023.16, 2023.21, 2023.26, 2023.34, 2023.39,
          2023.45, 2023.50, 2023.56, 2023.62, 2023.68, 2023.74, 2023.75, 2023.76, 2023.81, 2023.88,
          2023.94, 2024.00, 2024.05, 2024.10, 2024.15, 2024.20, 2024.24, 2024.25, 2024.32, 2024.40,
          2024.48, 2024.55, 2024.62, 2024.70, 2024.78, 2024.88, 2024.94, 2024.95, 2025.02, 2025.10,
          2025.20, 2025.26, 2025.28, 2025.30, 2025.34, 2025.40, 2025.46, 2025.50, 2025.556]
util_v = [1.12, 1.20, 1.00, 0.85, 0.90, 0.85, 0.90, 1.00, 1.80, 1.50,
          1.20, 1.10, 1.30, 1.00, 1.20, 1.10, 1.30, 1.00, 1.10, 1.15,
          1.20, 1.25, 1.30, 1.20, 1.10, 1.15, 1.20, 1.40, 1.20, 1.30,
          1.20, 1.10, 1.00, 1.10, 1.50, 1.30, 1.10, 0.90, 1.30, 0.80,
          0.75, 0.80, 0.75, 0.70, 0.70, 0.65, 0.60, 0.60, 0.55, 0.60,
          0.60, 0.70, 1.50, 1.20, 1.00, 1.20, 1.10, 1.00, 0.90, 0.80,
          0.75, 0.70, 0.80, 1.20, 1.10, 1.30, 1.60, 1.30, 1.10, 0.95,
          1.00, 0.90, 0.95, 0.90, 0.85, 0.85, 0.80, 0.75, 0.70, 0.65,
          0.70, 0.80, 2.00, 6.00, 10.06, 8.00, 6.50, 4.50, 3.20, 3.80,
          2.50, 2.00, 1.60, 1.90, 3.00, 1.70, 1.30, 1.10, 1.00, 0.95,
          1.00, 0.90, 0.95, 0.90, 0.95, 0.90, 0.85, 0.90, 0.85, 0.90,
          0.85, 0.90, 0.95, 1.00, 1.05, 1.10, 1.20, 1.17, 1.15, 1.20,
          1.30, 1.40, 1.50, 1.70, 2.20, 2.45, 2.00, 2.04, 2.05, 1.80,
          1.58, 1.30, 1.14, 0.95, 0.95, 1.10, 1.17, 1.26, 1.14, 1.08,
          0.95, 0.87, 0.80, 0.80, 0.78, 0.85, 1.89, 0.90, 1.02, 1.39,
          1.42, 1.51, 1.40, 1.30, 1.20, 1.10, 1.78, 1.10, 1.00, 0.95,
          0.90, 0.95, 1.00, 0.95, 1.00, 1.20, 2.04, 1.20, 1.10, 1.05,
          1.10, 1.50, 3.00, 2.00, 1.60, 1.30, 1.10, 1.20, 1.10]

hc_t = [2015.36, 2015.38, 2015.42, 2015.46, 2015.50, 2015.55, 2015.58, 2015.60, 2015.62, 2015.65,
        2015.66, 2015.68, 2015.70, 2015.72, 2015.74, 2015.76, 2015.78, 2015.80, 2015.82, 2015.84,
        2015.86, 2015.88, 2015.90, 2015.92, 2015.95, 2015.98, 2016.00, 2016.04, 2016.06, 2016.08,
        2016.10, 2016.13, 2016.16, 2016.20, 2016.24, 2016.28, 2016.32, 2016.36, 2016.40, 2016.44,
        2016.48, 2016.50, 2016.55, 2016.60, 2016.65, 2016.70, 2016.72, 2016.76, 2016.78, 2016.80,
        2016.84, 2016.86, 2016.885, 2016.92, 2016.96, 2017.00, 2017.04, 2017.08, 2017.12, 2017.16,
        2017.20, 2017.25, 2017.30, 2017.36, 2017.42, 2017.48, 2017.55, 2017.62, 2017.68, 2017.75,
        2017.82, 2017.90, 2017.96, 2018.00, 2018.05, 2018.09, 2018.11, 2018.14, 2018.18, 2018.22,
        2018.24, 2018.28, 2018.32, 2018.38, 2018.44, 2018.50, 2018.56, 2018.60, 2018.64, 2018.68,
        2018.72, 2018.76, 2018.78, 2018.82, 2018.84, 2018.88, 2018.92, 2018.96, 2019.00, 2019.03,
        2019.06, 2019.10, 2019.14, 2019.20, 2019.26, 2019.32, 2019.38, 2019.44, 2019.50, 2019.56,
        2019.60, 2019.62, 2019.68, 2019.74, 2019.80, 2019.86, 2019.92, 2020.00, 2020.05, 2020.10,
        2020.14, 2020.16, 2020.18, 2020.20, 2020.212, 2020.225, 2020.24, 2020.26, 2020.28, 2020.30,
        2020.33, 2020.36, 2020.40, 2020.43, 2020.45, 2020.47, 2020.50, 2020.52, 2020.55, 2020.60,
        2020.67, 2020.72, 2020.77, 2020.78, 2020.85, 2020.92, 2021.00, 2021.08, 2021.16, 2021.24,
        2021.32, 2021.42, 2021.52, 2021.62, 2021.72, 2021.82, 2021.92, 2022.00, 2022.08, 2022.14,
        2022.18, 2022.25, 2022.30, 2022.35, 2022.39, 2022.43, 2022.47, 2022.51, 2022.53, 2022.57,
        2022.61, 2022.64, 2022.66, 2022.71, 2022.74, 2022.77, 2022.81, 2022.85, 2022.90, 2022.95,
        2022.98, 2023.02, 2023.06, 2023.09, 2023.13, 2023.18, 2023.21, 2023.29, 2023.33, 2023.38,
        2023.42, 2023.47, 2023.52, 2023.57, 2023.63, 2023.68, 2023.73, 2023.78, 2023.84, 2023.86,
        2023.90, 2023.94, 2024.00, 2024.08, 2024.14, 2024.20, 2024.26, 2024.32, 2024.38, 2024.44,
        2024.48, 2024.52, 2024.55, 2024.57, 2024.61, 2024.63, 2024.67, 2024.70, 2024.72, 2024.77,
        2024.82, 2024.87, 2024.89, 2024.92, 2024.98, 2025.04, 2025.10, 2025.16, 2025.21, 2025.23,
        2025.27, 2025.29, 2025.31, 2025.34, 2025.37, 2025.40, 2025.41, 2025.42, 2025.45, 2025.47,
        2025.49, 2025.51, 2025.54, 2025.556]
hc_v = [0.90, 0.85, 0.80, 0.85, 0.82, 0.87, 0.90, 1.10, 0.95, 3.10,
        2.50, 1.80, 1.40, 1.90, 1.30, 2.10, 1.50, 1.20, 1.80, 1.60,
        1.10, 1.90, 1.20, 1.50, 1.10, 1.40, 1.10, 1.30, 1.80, 1.20,
        1.30, 1.20, 1.35, 1.25, 1.10, 1.30, 1.00, 0.90, 0.85, 0.90,
        1.40, 0.90, 0.85, 0.90, 0.80, 1.30, 0.90, 1.00, 1.87, 1.00,
        1.40, 1.80, 2.28, 1.10, 0.95, 0.80, 0.75, 0.85, 0.70, 0.65,
        0.70, 0.60, 0.65, 0.60, 0.70, 0.65, 0.60, 0.55, 0.60, 0.70,
        0.65, 0.60, 0.65, 0.70, 0.90, 1.80, 1.50, 1.20, 1.00, 1.60,
        1.40, 1.00, 0.80, 1.10, 0.85, 0.70, 0.75, 0.50, 0.60, 0.40,
        0.60, 0.50, 1.50, 1.80, 1.30, 1.20, 1.40, 1.90, 1.50, 1.80,
        1.30, 1.00, 1.20, 0.90, 1.00, 0.85, 0.90, 0.85, 0.95, 0.90,
        1.40, 0.90, 0.85, 0.80, 0.75, 0.70, 0.65, 0.60, 0.70, 0.60,
        0.80, 1.50, 4.00, 6.00, 7.84, 6.50, 4.50, 2.80, 2.00, 2.40,
        1.60, 1.40, 1.20, 1.50, 2.20, 1.40, 1.10, 1.23, 0.90, 0.80,
        0.74, 0.85, 0.80, 1.05, 0.75, 0.80, 0.77, 0.77, 0.80, 0.75,
        0.77, 0.71, 0.69, 0.72, 0.74, 0.78, 0.80, 0.80, 0.81, 1.05,
        1.15, 1.20, 1.39, 1.48, 1.46, 1.45, 1.51, 1.42, 1.39, 1.33,
        1.26, 0.86, 1.20, 1.26, 1.14, 1.33, 1.26, 1.36, 1.26, 1.23,
        1.05, 0.86, 0.80, 0.70, 0.70, 0.73, 0.83, 0.86, 0.83, 0.69,
        0.73, 0.64, 0.70, 0.70, 0.67, 0.64, 0.58, 0.61, 0.64, 0.80,
        0.67, 0.76, 0.73, 0.71, 0.72, 0.66, 0.60, 0.62, 0.67, 0.56,
        0.53, 0.67, 0.96, 0.70, 1.18, 0.67, 0.47, 0.99, 0.78, 0.67,
        0.71, 0.85, 0.67, 0.64, 0.85, 0.85, 0.93, 0.84, 0.82, 0.96,
        2.27, 1.94, 1.21, 1.14, 1.91, 1.76, 1.30, 0.99, 0.91, 1.14,
        1.03, 0.96, 1.29, 1.22]

event_dates = ["2020-03-23", "2022-01-03", "2022-03-16", "2023-03-10", "2023-07-26", "2023-11-01"]
event_labels = ["COVID-19 Crash", "Tech Selloff", "Fed First Hike", "SVB Collapse",
                "Rate Peak", "AI Rally Start"]

series_t = [energy_t, tech_t, fin_t, cons_t, re_t, ind_t, util_t, hc_t]
series_v = [energy_v, tech_v, fin_v, cons_v, re_v, ind_v, util_v, hc_v]


def to_dates(years):
    years = np.asarray(years, dtype=float)
    return pd.Timestamp("2015-01-01") + pd.to_timedelta((years - 2015.0) * 365.25, unit="D")


sns.set_style("whitegrid")
plt.rcParams["font.family"] = ["Liberation Sans", "DejaVu Sans"]

fig, ax = plt.subplots(figsize=(14.807, 7.833), dpi=300)
fig.subplots_adjust(left=0.046, right=0.787, top=0.934, bottom=0.067)

colors = plt.cm.viridis(np.linspace(0, 1, len(sectors)))
for name, avg, t, v, c in zip(sectors, avg_vol, series_t, series_v, colors):
    ax.plot(to_dates(t), v, color=c, lw=1.6, alpha=0.7,
            label='{} ({:.1f}%)'.format(name, avg))

ymax = ax.get_ylim()[1]
for d, lab in zip(event_dates, event_labels):
    dt = pd.Timestamp(d)
    ax.axvline(dt, color='gray', linestyle='--', alpha=0.3, lw=1.5)
    ax.text(dt, ymax * 0.9, lab, rotation=90, ha='right', va='top',
            fontsize=10, alpha=0.7)

ax.set_title('Sector-wise GARCH Volatility Comparison (2015-2025)', fontsize=14, pad=18)
ax.set_xlabel('Date', fontsize=12)
ax.set_ylabel('GARCH(1,1) Volatility (%)', fontsize=12)
ax.yaxis.set_major_locator(MultipleLocator(2))
ax.yaxis.set_major_formatter(FuncFormatter(lambda y, _: '{:.0f}%'.format(y)))
ax.xaxis.set_major_locator(mdates.YearLocator(2))
ax.xaxis.set_major_formatter(mdates.DateFormatter('%Y'))
ax.tick_params(labelsize=10)
ax.grid(True, alpha=0.3)
for s in ax.spines.values():
    s.set_visible(False)

ax.legend(title='Sectors (Avg Vol)', bbox_to_anchor=(1.05, 1), loc='upper left',
          fontsize=10, title_fontsize=12)

fig.savefig('out.png', dpi=300)
